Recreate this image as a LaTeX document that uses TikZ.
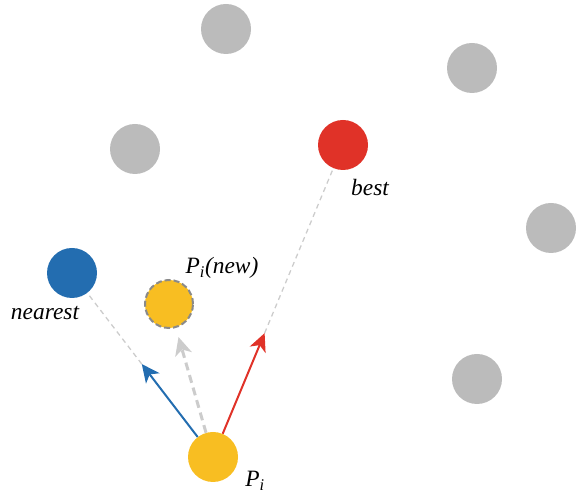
\documentclass[tikz,border=0pt]{standalone}
\usepackage{fontspec}
\setmainfont{Liberation Serif}
\usetikzlibrary{arrows.meta,calc}
\definecolor{dotgray}{HTML}{BBBBBB}
\definecolor{bestred}{HTML}{E03228}
\definecolor{nearblue}{HTML}{236DB0}
\definecolor{pyellow}{HTML}{F8BE22}
\definecolor{dashgray}{HTML}{CCCCCC}
\definecolor{rimgray}{HTML}{8A8A8A}
\tikzset{
  dot/.style={circle, minimum size=50bp, inner sep=0pt, draw=none},
  lbl/.style={font=\fontsize{23.5}{26}\selectfont\itshape, inner sep=0pt},
  guide/.style={draw=dashgray, line width=1.3bp, dash pattern=on 5bp off 4bp},
  move/.style={line width=2bp, -{Stealth[length=18bp,width=17bp,inset=5bp]}},
}
\begin{document}
\begin{tikzpicture}[x=1bp,y=1bp]
\useasboundingbox (0,0) rectangle (577,497);
% gray particles
\node[dot, fill=dotgray] (g1) at (226,468) {};
\node[dot, fill=dotgray] (g2) at (472,429) {};
\node[dot, fill=dotgray] (g3) at (135,348) {};
\node[dot, fill=dotgray] (g4) at (551,269) {};
\node[dot, fill=dotgray] (g5) at (477,118) {};
% special particles
\node[dot, fill=bestred] (best) at (343,352) {};
\node[dot, fill=nearblue] (near) at (72,224) {};
\node[dot, fill=pyellow, draw=rimgray, line width=2bp, dash pattern=on 6bp off 3bp, minimum size=48bp] (new) at (169,193) {};
\node[dot, fill=pyellow] (pi) at (213,40) {};
% labels
\node[lbl] (lnear) at (45,184) {nearest};
\node[lbl] (lnew) at (222,229) {P\textsubscript{i}(new)};
\node[lbl] (lbest) at (370,310) {best};
\node[lbl] (lpi) at (255,16) {P\textsubscript{i}};
% arrow tips
\coordinate (tb) at ($(pi.center)!0.505!(near.center)$);
\coordinate (tr) at ($(pi.center)!0.397!(best.center)$);
\coordinate (tg) at ($(pi.center)!0.784!(new.center)$);
% guides
\draw[guide] (tb) -- (near);
\draw[guide] (tr) -- (best);
% moves
\draw[move, draw=dashgray, line width=3bp, dash pattern=on 8bp off 5bp, -{Stealth[length=18bp,width=17bp,inset=5bp,sep=0pt]}] (pi) -- (tg);
\draw[move, draw=nearblue, color=nearblue] (pi) -- (tb);
\draw[move, draw=bestred, color=bestred] (pi) -- (tr);
\end{tikzpicture}
\end{document}
